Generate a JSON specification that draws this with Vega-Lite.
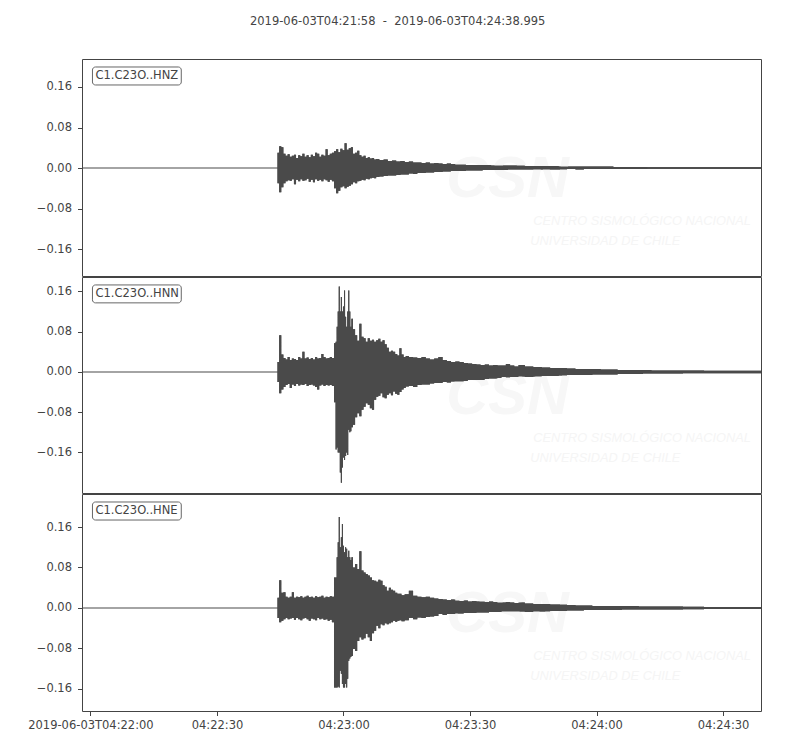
{
  "$schema": "https://vega.github.io/schema/vega-lite/v6.json",
  "padding": {"left": 27, "top": 16, "right": 5, "bottom": 5},
  "title": {
    "text": "2019-06-03T04:21:58\u00a0\u00a0-\u00a0\u00a02019-06-03T04:24:38.995",
    "fontSize": 11.5, "fontWeight": "normal", "color": "#444", "font": "DejaVu Sans",
    "anchor": "middle", "frame": "bounds", "baseline": "bottom", "offset": 20, "dx": 3
  },
  "datasets": {
    "hnz": [
      {"t": 46.2, "u": 0, "l": 0}, {"t": 46.5, "u": 0.03, "l": -0.03}, {"t": 47, "u": 0.043, "l": -0.048},
      {"t": 47.5, "u": 0.041, "l": -0.038}, {"t": 48, "u": 0.028, "l": -0.03}, {"t": 48.5, "u": 0.024, "l": -0.026},
      {"t": 49, "u": 0.027, "l": -0.024}, {"t": 49.5, "u": 0.022, "l": -0.025}, {"t": 50, "u": 0.024, "l": -0.022},
      {"t": 50.5, "u": 0.026, "l": -0.032}, {"t": 51, "u": 0.02, "l": -0.023}, {"t": 51.5, "u": 0.025, "l": -0.026},
      {"t": 52, "u": 0.023, "l": -0.022}, {"t": 52.5, "u": 0.028, "l": -0.025}, {"t": 53, "u": 0.022, "l": -0.024},
      {"t": 53.5, "u": 0.025, "l": -0.021}, {"t": 54, "u": 0.021, "l": -0.027}, {"t": 54.5, "u": 0.026, "l": -0.023},
      {"t": 55, "u": 0.023, "l": -0.028}, {"t": 55.5, "u": 0.03, "l": -0.022}, {"t": 56, "u": 0.028, "l": -0.025},
      {"t": 56.5, "u": 0.022, "l": -0.023}, {"t": 57, "u": 0.026, "l": -0.026}, {"t": 57.5, "u": 0.024, "l": -0.022},
      {"t": 58, "u": 0.037, "l": -0.024}, {"t": 58.5, "u": 0.025, "l": -0.027}, {"t": 59, "u": 0.028, "l": -0.023},
      {"t": 59.5, "u": 0.03, "l": -0.026}, {"t": 60, "u": 0.033, "l": -0.04}, {"t": 60.5, "u": 0.037, "l": -0.05},
      {"t": 61, "u": 0.031, "l": -0.045}, {"t": 61.5, "u": 0.038, "l": -0.038}, {"t": 62, "u": 0.035, "l": -0.036},
      {"t": 62.5, "u": 0.049, "l": -0.04}, {"t": 63, "u": 0.036, "l": -0.037}, {"t": 63.5, "u": 0.039, "l": -0.035},
      {"t": 64, "u": 0.041, "l": -0.032}, {"t": 64.5, "u": 0.028, "l": -0.028}, {"t": 65, "u": 0.03, "l": -0.03},
      {"t": 65.5, "u": 0.034, "l": -0.026}, {"t": 66, "u": 0.025, "l": -0.025}, {"t": 66.5, "u": 0.022, "l": -0.023},
      {"t": 67, "u": 0.024, "l": -0.024}, {"t": 67.5, "u": 0.02, "l": -0.021}, {"t": 68, "u": 0.021, "l": -0.022},
      {"t": 68.5, "u": 0.019, "l": -0.02}, {"t": 69, "u": 0.02, "l": -0.019}, {"t": 69.5, "u": 0.017, "l": -0.02},
      {"t": 70, "u": 0.018, "l": -0.018}, {"t": 71, "u": 0.016, "l": -0.017}, {"t": 72, "u": 0.017, "l": -0.016},
      {"t": 73, "u": 0.014, "l": -0.015}, {"t": 74, "u": 0.015, "l": -0.015}, {"t": 75, "u": 0.013, "l": -0.014},
      {"t": 76, "u": 0.014, "l": -0.013}, {"t": 77, "u": 0.012, "l": -0.013}, {"t": 78, "u": 0.013, "l": -0.011},
      {"t": 79, "u": 0.011, "l": -0.012}, {"t": 80, "u": 0.011, "l": -0.01}, {"t": 81, "u": 0.01, "l": -0.01},
      {"t": 82, "u": 0.011, "l": -0.009}, {"t": 83, "u": 0.009, "l": -0.009}, {"t": 84, "u": 0.01, "l": -0.008},
      {"t": 85, "u": 0.009, "l": -0.008}, {"t": 86, "u": 0.008, "l": -0.007}, {"t": 87, "u": 0.009, "l": -0.007},
      {"t": 88, "u": 0.008, "l": -0.006}, {"t": 89, "u": 0.007, "l": -0.006}, {"t": 90, "u": 0.007, "l": -0.006},
      {"t": 92, "u": 0.006, "l": -0.005}, {"t": 94, "u": 0.006, "l": -0.005}, {"t": 96, "u": 0.006, "l": -0.004},
      {"t": 98, "u": 0.005, "l": -0.004}, {"t": 100, "u": 0.005, "l": -0.004}, {"t": 102, "u": 0.005, "l": -0.003},
      {"t": 104, "u": 0.005, "l": -0.003}, {"t": 106, "u": 0.004, "l": -0.003}, {"t": 108, "u": 0.004, "l": -0.003},
      {"t": 110, "u": 0.004, "l": -0.003}, {"t": 112, "u": 0.004, "l": -0.003}, {"t": 114, "u": 0.003, "l": -0.003},
      {"t": 116, "u": 0.003, "l": -0.002}, {"t": 118, "u": 0.003, "l": -0.003}, {"t": 120, "u": 0.003, "l": -0.002},
      {"t": 124, "u": 0.003, "l": -0.002}, {"t": 128, "u": 0.002, "l": -0.002}, {"t": 132, "u": 0.002, "l": -0.002},
      {"t": 136, "u": 0.0015, "l": -0.0015}, {"t": 161, "u": 0.0015, "l": -0.0015}
    ],
    "hnn": [
      {"t": 46.2, "u": 0, "l": 0}, {"t": 46.5, "u": 0.02, "l": -0.02}, {"t": 47, "u": 0.073, "l": -0.042},
      {"t": 47.5, "u": 0.035, "l": -0.035}, {"t": 48, "u": 0.028, "l": -0.03}, {"t": 48.5, "u": 0.025, "l": -0.026},
      {"t": 49, "u": 0.03, "l": -0.024}, {"t": 49.5, "u": 0.024, "l": -0.032}, {"t": 50, "u": 0.027, "l": -0.025},
      {"t": 50.5, "u": 0.026, "l": -0.028}, {"t": 51, "u": 0.024, "l": -0.024}, {"t": 51.5, "u": 0.03, "l": -0.027},
      {"t": 52, "u": 0.027, "l": -0.025}, {"t": 52.5, "u": 0.04, "l": -0.026}, {"t": 53, "u": 0.027, "l": -0.024},
      {"t": 53.5, "u": 0.029, "l": -0.028}, {"t": 54, "u": 0.026, "l": -0.026}, {"t": 54.5, "u": 0.028, "l": -0.025},
      {"t": 55, "u": 0.025, "l": -0.027}, {"t": 55.5, "u": 0.03, "l": -0.03}, {"t": 56, "u": 0.027, "l": -0.035},
      {"t": 56.5, "u": 0.028, "l": -0.027}, {"t": 57, "u": 0.036, "l": -0.025}, {"t": 57.5, "u": 0.03, "l": -0.028},
      {"t": 58, "u": 0.027, "l": -0.026}, {"t": 58.5, "u": 0.028, "l": -0.027}, {"t": 59, "u": 0.03, "l": -0.026},
      {"t": 59.5, "u": 0.028, "l": -0.028}, {"t": 60, "u": 0.057, "l": -0.06}, {"t": 60.25, "u": 0.06, "l": -0.154},
      {"t": 60.5, "u": 0.09, "l": -0.15}, {"t": 60.75, "u": 0.12, "l": -0.16}, {"t": 61, "u": 0.17, "l": -0.16},
      {"t": 61.25, "u": 0.12, "l": -0.2}, {"t": 61.5, "u": 0.149, "l": -0.22}, {"t": 61.75, "u": 0.12, "l": -0.19},
      {"t": 62, "u": 0.13, "l": -0.17}, {"t": 62.25, "u": 0.162, "l": -0.175}, {"t": 62.5, "u": 0.11, "l": -0.167},
      {"t": 62.75, "u": 0.09, "l": -0.16}, {"t": 63, "u": 0.12, "l": -0.165}, {"t": 63.25, "u": 0.162, "l": -0.115},
      {"t": 63.5, "u": 0.12, "l": -0.12}, {"t": 63.75, "u": 0.09, "l": -0.118}, {"t": 64, "u": 0.106, "l": -0.11},
      {"t": 64.5, "u": 0.085, "l": -0.105}, {"t": 65, "u": 0.073, "l": -0.09}, {"t": 65.5, "u": 0.062, "l": -0.082},
      {"t": 66, "u": 0.096, "l": -0.088}, {"t": 66.5, "u": 0.07, "l": -0.075}, {"t": 67, "u": 0.067, "l": -0.069},
      {"t": 67.5, "u": 0.06, "l": -0.062}, {"t": 68, "u": 0.067, "l": -0.065}, {"t": 68.5, "u": 0.062, "l": -0.072},
      {"t": 69, "u": 0.064, "l": -0.075}, {"t": 69.5, "u": 0.06, "l": -0.055}, {"t": 70, "u": 0.063, "l": -0.049},
      {"t": 70.5, "u": 0.066, "l": -0.047}, {"t": 71, "u": 0.06, "l": -0.042}, {"t": 71.5, "u": 0.063, "l": -0.05},
      {"t": 72, "u": 0.055, "l": -0.052}, {"t": 72.5, "u": 0.048, "l": -0.045}, {"t": 73, "u": 0.04, "l": -0.042},
      {"t": 73.5, "u": 0.042, "l": -0.046}, {"t": 74, "u": 0.04, "l": -0.039}, {"t": 74.5, "u": 0.036, "l": -0.043},
      {"t": 75, "u": 0.033, "l": -0.045}, {"t": 75.5, "u": 0.047, "l": -0.04}, {"t": 76, "u": 0.035, "l": -0.035},
      {"t": 76.5, "u": 0.03, "l": -0.032}, {"t": 77, "u": 0.032, "l": -0.029}, {"t": 78, "u": 0.03, "l": -0.028},
      {"t": 79, "u": 0.029, "l": -0.03}, {"t": 80, "u": 0.028, "l": -0.026}, {"t": 81, "u": 0.03, "l": -0.025},
      {"t": 82, "u": 0.027, "l": -0.025}, {"t": 83, "u": 0.025, "l": -0.023}, {"t": 84, "u": 0.027, "l": -0.022},
      {"t": 85, "u": 0.03, "l": -0.022}, {"t": 86, "u": 0.024, "l": -0.02}, {"t": 87, "u": 0.022, "l": -0.021},
      {"t": 88, "u": 0.02, "l": -0.019}, {"t": 89, "u": 0.021, "l": -0.019}, {"t": 90, "u": 0.02, "l": -0.019},
      {"t": 91, "u": 0.018, "l": -0.018}, {"t": 92, "u": 0.017, "l": -0.016}, {"t": 93, "u": 0.016, "l": -0.016},
      {"t": 94, "u": 0.015, "l": -0.016}, {"t": 95, "u": 0.014, "l": -0.016}, {"t": 96, "u": 0.015, "l": -0.014},
      {"t": 97, "u": 0.013, "l": -0.013}, {"t": 98, "u": 0.014, "l": -0.013}, {"t": 99, "u": 0.013, "l": -0.012},
      {"t": 100, "u": 0.013, "l": -0.01}, {"t": 101, "u": 0.016, "l": -0.011}, {"t": 102, "u": 0.013, "l": -0.01},
      {"t": 103, "u": 0.011, "l": -0.01}, {"t": 104, "u": 0.014, "l": -0.009}, {"t": 106, "u": 0.011, "l": -0.01},
      {"t": 108, "u": 0.01, "l": -0.009}, {"t": 110, "u": 0.009, "l": -0.008}, {"t": 112, "u": 0.008, "l": -0.008},
      {"t": 114, "u": 0.008, "l": -0.007}, {"t": 116, "u": 0.007, "l": -0.006}, {"t": 118, "u": 0.006, "l": -0.006},
      {"t": 120, "u": 0.006, "l": -0.006}, {"t": 122, "u": 0.006, "l": -0.005}, {"t": 124, "u": 0.005, "l": -0.005},
      {"t": 126, "u": 0.005, "l": -0.005}, {"t": 128, "u": 0.004, "l": -0.004}, {"t": 130, "u": 0.004, "l": -0.004},
      {"t": 132, "u": 0.004, "l": -0.004}, {"t": 134, "u": 0.004, "l": -0.003}, {"t": 136, "u": 0.003, "l": -0.003},
      {"t": 140, "u": 0.003, "l": -0.003}, {"t": 145, "u": 0.003, "l": -0.0025}, {"t": 150, "u": 0.0025, "l": -0.0025},
      {"t": 161, "u": 0.0025, "l": -0.0025}
    ],
    "hne": [
      {"t": 46.2, "u": 0, "l": 0}, {"t": 46.5, "u": 0.02, "l": -0.02}, {"t": 47, "u": 0.055, "l": -0.028},
      {"t": 47.5, "u": 0.03, "l": -0.025}, {"t": 48, "u": 0.031, "l": -0.022}, {"t": 48.5, "u": 0.022, "l": -0.02},
      {"t": 49, "u": 0.02, "l": -0.022}, {"t": 49.5, "u": 0.022, "l": -0.021}, {"t": 50, "u": 0.031, "l": -0.02},
      {"t": 50.5, "u": 0.02, "l": -0.023}, {"t": 51, "u": 0.022, "l": -0.02}, {"t": 51.5, "u": 0.021, "l": -0.022},
      {"t": 52, "u": 0.023, "l": -0.024}, {"t": 52.5, "u": 0.02, "l": -0.021}, {"t": 53, "u": 0.022, "l": -0.02},
      {"t": 53.5, "u": 0.024, "l": -0.022}, {"t": 54, "u": 0.021, "l": -0.025}, {"t": 54.5, "u": 0.022, "l": -0.021},
      {"t": 55, "u": 0.02, "l": -0.022}, {"t": 55.5, "u": 0.023, "l": -0.024}, {"t": 56, "u": 0.021, "l": -0.02},
      {"t": 56.5, "u": 0.022, "l": -0.022}, {"t": 57, "u": 0.024, "l": -0.021}, {"t": 57.5, "u": 0.02, "l": -0.023},
      {"t": 58, "u": 0.022, "l": -0.022}, {"t": 58.5, "u": 0.021, "l": -0.025}, {"t": 59, "u": 0.023, "l": -0.023},
      {"t": 59.5, "u": 0.022, "l": -0.028}, {"t": 60, "u": 0.06, "l": -0.157}, {"t": 60.25, "u": 0.06, "l": -0.157},
      {"t": 60.5, "u": 0.1, "l": -0.157}, {"t": 60.75, "u": 0.13, "l": -0.155}, {"t": 61, "u": 0.18, "l": -0.157},
      {"t": 61.25, "u": 0.12, "l": -0.124}, {"t": 61.5, "u": 0.14, "l": -0.13}, {"t": 61.75, "u": 0.166, "l": -0.15},
      {"t": 62, "u": 0.123, "l": -0.157}, {"t": 62.25, "u": 0.11, "l": -0.157}, {"t": 62.5, "u": 0.12, "l": -0.15},
      {"t": 62.75, "u": 0.117, "l": -0.157}, {"t": 63, "u": 0.1, "l": -0.14}, {"t": 63.25, "u": 0.113, "l": -0.104},
      {"t": 63.5, "u": 0.1, "l": -0.1}, {"t": 63.75, "u": 0.095, "l": -0.097}, {"t": 64, "u": 0.1, "l": -0.095},
      {"t": 64.5, "u": 0.08, "l": -0.081}, {"t": 65, "u": 0.087, "l": -0.085}, {"t": 65.5, "u": 0.077, "l": -0.065},
      {"t": 66, "u": 0.112, "l": -0.058}, {"t": 66.5, "u": 0.074, "l": -0.062}, {"t": 67, "u": 0.07, "l": -0.06},
      {"t": 67.5, "u": 0.067, "l": -0.051}, {"t": 68, "u": 0.064, "l": -0.058}, {"t": 68.5, "u": 0.06, "l": -0.065},
      {"t": 69, "u": 0.055, "l": -0.05}, {"t": 69.5, "u": 0.054, "l": -0.045}, {"t": 70, "u": 0.052, "l": -0.035},
      {"t": 70.5, "u": 0.056, "l": -0.04}, {"t": 71, "u": 0.054, "l": -0.032}, {"t": 71.5, "u": 0.045, "l": -0.034},
      {"t": 72, "u": 0.042, "l": -0.03}, {"t": 72.5, "u": 0.034, "l": -0.032}, {"t": 73, "u": 0.04, "l": -0.03},
      {"t": 73.5, "u": 0.036, "l": -0.028}, {"t": 74, "u": 0.034, "l": -0.025}, {"t": 74.5, "u": 0.03, "l": -0.027},
      {"t": 75, "u": 0.028, "l": -0.025}, {"t": 75.5, "u": 0.028, "l": -0.024}, {"t": 76, "u": 0.025, "l": -0.026},
      {"t": 77, "u": 0.027, "l": -0.024}, {"t": 78, "u": 0.034, "l": -0.02}, {"t": 79, "u": 0.024, "l": -0.022},
      {"t": 80, "u": 0.022, "l": -0.019}, {"t": 81, "u": 0.021, "l": -0.02}, {"t": 82, "u": 0.022, "l": -0.018},
      {"t": 83, "u": 0.02, "l": -0.017}, {"t": 84, "u": 0.019, "l": -0.016}, {"t": 85, "u": 0.018, "l": -0.012},
      {"t": 86, "u": 0.017, "l": -0.014}, {"t": 87, "u": 0.016, "l": -0.012}, {"t": 88, "u": 0.017, "l": -0.012},
      {"t": 89, "u": 0.015, "l": -0.011}, {"t": 90, "u": 0.014, "l": -0.011}, {"t": 91, "u": 0.015, "l": -0.01},
      {"t": 92, "u": 0.013, "l": -0.01}, {"t": 93, "u": 0.014, "l": -0.01}, {"t": 94, "u": 0.013, "l": -0.009},
      {"t": 95, "u": 0.013, "l": -0.009}, {"t": 96, "u": 0.012, "l": -0.009}, {"t": 97, "u": 0.013, "l": -0.008},
      {"t": 98, "u": 0.012, "l": -0.008}, {"t": 99, "u": 0.011, "l": -0.008}, {"t": 100, "u": 0.011, "l": -0.007},
      {"t": 101, "u": 0.012, "l": -0.007}, {"t": 102, "u": 0.011, "l": -0.007}, {"t": 103, "u": 0.01, "l": -0.007},
      {"t": 104, "u": 0.011, "l": -0.007}, {"t": 106, "u": 0.009, "l": -0.008}, {"t": 108, "u": 0.008, "l": -0.007},
      {"t": 110, "u": 0.008, "l": -0.007}, {"t": 112, "u": 0.007, "l": -0.006}, {"t": 114, "u": 0.007, "l": -0.006},
      {"t": 116, "u": 0.006, "l": -0.005}, {"t": 118, "u": 0.005, "l": -0.005}, {"t": 120, "u": 0.005, "l": -0.004},
      {"t": 122, "u": 0.004, "l": -0.004}, {"t": 126, "u": 0.004, "l": -0.004}, {"t": 130, "u": 0.004, "l": -0.003},
      {"t": 134, "u": 0.003, "l": -0.003}, {"t": 140, "u": 0.003, "l": -0.003}, {"t": 145, "u": 0.0025, "l": -0.0025},
      {"t": 150, "u": 0.002, "l": -0.002}, {"t": 161, "u": 0.002, "l": -0.002}
    ]
  },
  "spacing": -1,
  "vconcat": [
    {
      "width": 679, "height": 217,
      "data": {"name": "hnz"},
      "layer": [
        {"mark": {"type": "area", "interpolate": "step", "color": "#4a4a4a"},
         "encoding": {
           "x": {"field": "t", "type": "quantitative", "scale": {"domain": [0, 160.995], "nice": false, "zero": false},
                 "axis": {"title": null, "labels": false, "ticks": false, "domain": false, "minExtent": 0, "maxExtent": 0}},
           "y": {"field": "u", "type": "quantitative", "scale": {"domain": [-0.2133, 0.2153], "nice": false, "zero": false},
                 "axis": {"title": null, "values": [-0.16, -0.08, 0, 0.08, 0.16], "format": ".2f"}},
           "y2": {"field": "l"}
         }},
        {"data": {"values": [{}]}, "mark": {"type": "text", "text": "CSN", "font": "Liberation Sans", "fontSize": 58, "fontStyle": "italic", "fontWeight": "bold", "color": "#f7f7f7", "align": "center", "baseline": "middle"},
         "encoding": {"x": {"datum": 100.9}, "y": {"datum": -0.0238}}},
        {"data": {"values": [{}]}, "mark": {"type": "text", "text": "CENTRO SISMOLÓGICO NACIONAL", "font": "Liberation Sans", "fontSize": 12.8, "fontStyle": "italic", "color": "#f5f5f5", "align": "left", "baseline": "middle"},
         "encoding": {"x": {"datum": 107}, "y": {"datum": -0.1049}}},
        {"data": {"values": [{}]}, "mark": {"type": "text", "text": "UNIVERSIDAD DE CHILE", "font": "Liberation Sans", "fontSize": 12.8, "fontStyle": "italic", "color": "#f5f5f5", "align": "left", "baseline": "middle"},
         "encoding": {"x": {"datum": 106.3}, "y": {"datum": -0.1444}}},
        {"data": {"values": [{}]}, "mark": {"type": "rule", "color": "#4a4a4a", "strokeWidth": 1.2},
         "encoding": {"y": {"datum": 0}}},
        {"mark": {"type": "area", "interpolate": "step", "color": "#4a4a4a"},
         "encoding": {"x": {"field": "t", "type": "quantitative"}, "y": {"field": "u", "type": "quantitative"}, "y2": {"field": "l"}}},
        {"data": {"values": [{}]}, "mark": {"type": "rect", "fill": "white", "stroke": "#666", "strokeWidth": 1, "cornerRadius": 3},
         "encoding": {"x": {"datum": 2.48}, "x2": {"datum": 23.54}, "y": {"datum": 0.1995}, "y2": {"datum": 0.164}}},
        {"data": {"values": [{}]}, "mark": {"type": "text", "text": "C1.C23O..HNZ", "fontSize": 11.5, "color": "#444", "align": "left", "baseline": "middle"},
         "encoding": {"x": {"datum": 3.2}, "y": {"datum": 0.1817}}}
      ]
    },
    {
      "width": 679, "height": 216,
      "data": {"name": "hnn"},
      "layer": [
        {"mark": {"type": "area", "interpolate": "step", "color": "#4a4a4a"},
         "encoding": {
           "x": {"field": "t", "type": "quantitative", "scale": {"domain": [0, 160.995], "nice": false, "zero": false},
                 "axis": {"title": null, "labels": false, "ticks": false, "domain": false, "minExtent": 0, "maxExtent": 0}},
           "y": {"field": "u", "type": "quantitative", "scale": {"domain": [-0.2405, 0.1888], "nice": false, "zero": false},
                 "axis": {"title": null, "values": [-0.16, -0.08, 0, 0.08, 0.16], "format": ".2f"}},
           "y2": {"field": "l"}
         }},
        {"data": {"values": [{}]}, "mark": {"type": "text", "text": "CSN", "font": "Liberation Sans", "fontSize": 58, "fontStyle": "italic", "fontWeight": "bold", "color": "#f7f7f7", "align": "center", "baseline": "middle"},
         "encoding": {"x": {"datum": 100.9}, "y": {"datum": -0.0503}}},
        {"data": {"values": [{}]}, "mark": {"type": "text", "text": "CENTRO SISMOLÓGICO NACIONAL", "font": "Liberation Sans", "fontSize": 12.8, "fontStyle": "italic", "color": "#f5f5f5", "align": "left", "baseline": "middle"},
         "encoding": {"x": {"datum": 107}, "y": {"datum": -0.1314}}},
        {"data": {"values": [{}]}, "mark": {"type": "text", "text": "UNIVERSIDAD DE CHILE", "font": "Liberation Sans", "fontSize": 12.8, "fontStyle": "italic", "color": "#f5f5f5", "align": "left", "baseline": "middle"},
         "encoding": {"x": {"datum": 106.3}, "y": {"datum": -0.1709}}},
        {"data": {"values": [{}]}, "mark": {"type": "rule", "color": "#4a4a4a", "strokeWidth": 1.2},
         "encoding": {"y": {"datum": 0}}},
        {"mark": {"type": "area", "interpolate": "step", "color": "#4a4a4a"},
         "encoding": {"x": {"field": "t", "type": "quantitative"}, "y": {"field": "u", "type": "quantitative"}, "y2": {"field": "l"}}},
        {"data": {"values": [{}]}, "mark": {"type": "rect", "fill": "white", "stroke": "#666", "strokeWidth": 1, "cornerRadius": 3},
         "encoding": {"x": {"datum": 2.48}, "x2": {"datum": 23.54}, "y": {"datum": 0.173}, "y2": {"datum": 0.1374}}},
        {"data": {"values": [{}]}, "mark": {"type": "text", "text": "C1.C23O..HNN", "fontSize": 11.5, "color": "#444", "align": "left", "baseline": "middle"},
         "encoding": {"x": {"datum": 3.2}, "y": {"datum": 0.1552}}}
      ]
    },
    {
      "width": 679, "height": 217,
      "data": {"name": "hne"},
      "layer": [
        {"mark": {"type": "area", "interpolate": "step", "color": "#4a4a4a"},
         "encoding": {
           "x": {"field": "t", "type": "quantitative", "scale": {"domain": [0, 160.995], "nice": false, "zero": false},
                 "axis": {"title": null, "values": [2, 32, 62, 92, 122, 152], "labelFlush": false,
                          "labelExpr": "(datum.value < 5 ? '2019-06-03T' : '') + '04:' + (20 + floor((118 + datum.value) / 60)) + ':' + (((118 + datum.value) % 60) < 10 ? '0' : '') + ((118 + datum.value) % 60)"}},
           "y": {"field": "u", "type": "quantitative", "scale": {"domain": [-0.2035, 0.2252], "nice": false, "zero": false},
                 "axis": {"title": null, "values": [-0.16, -0.08, 0, 0.08, 0.16], "format": ".2f"}},
           "y2": {"field": "l"}
         }},
        {"data": {"values": [{}]}, "mark": {"type": "text", "text": "CSN", "font": "Liberation Sans", "fontSize": 58, "fontStyle": "italic", "fontWeight": "bold", "color": "#f7f7f7", "align": "center", "baseline": "middle"},
         "encoding": {"x": {"datum": 100.9}, "y": {"datum": -0.0139}}},
        {"data": {"values": [{}]}, "mark": {"type": "text", "text": "CENTRO SISMOLÓGICO NACIONAL", "font": "Liberation Sans", "fontSize": 12.8, "fontStyle": "italic", "color": "#f5f5f5", "align": "left", "baseline": "middle"},
         "encoding": {"x": {"datum": 107}, "y": {"datum": -0.095}}},
        {"data": {"values": [{}]}, "mark": {"type": "text", "text": "UNIVERSIDAD DE CHILE", "font": "Liberation Sans", "fontSize": 12.8, "fontStyle": "italic", "color": "#f5f5f5", "align": "left", "baseline": "middle"},
         "encoding": {"x": {"datum": 106.3}, "y": {"datum": -0.1345}}},
        {"data": {"values": [{}]}, "mark": {"type": "rule", "color": "#4a4a4a", "strokeWidth": 1.2},
         "encoding": {"y": {"datum": 0}}},
        {"mark": {"type": "area", "interpolate": "step", "color": "#4a4a4a"},
         "encoding": {"x": {"field": "t", "type": "quantitative"}, "y": {"field": "u", "type": "quantitative"}, "y2": {"field": "l"}}},
        {"data": {"values": [{}]}, "mark": {"type": "rect", "fill": "white", "stroke": "#666", "strokeWidth": 1, "cornerRadius": 3},
         "encoding": {"x": {"datum": 2.48}, "x2": {"datum": 23.54}, "y": {"datum": 0.2094}, "y2": {"datum": 0.1738}}},
        {"data": {"values": [{}]}, "mark": {"type": "text", "text": "C1.C23O..HNE", "fontSize": 11.5, "color": "#444", "align": "left", "baseline": "middle"},
         "encoding": {"x": {"datum": 3.2}, "y": {"datum": 0.1916}}}
      ]
    }
  ],
  "config": {
    "font": "DejaVu Sans",
    "view": {"stroke": "#444", "strokeWidth": 1},
    "axis": {
      "labelFont": "DejaVu Sans", "labelFontSize": 11.5, "labelColor": "#444",
      "tickColor": "#444", "tickSize": 4.5, "tickWidth": 1, "labelPadding": 6,
      "domain": false, "grid": false, "labelOverlap": false
    },
    "axisY": {"minExtent": 45, "maxExtent": 45},
    "axisX": {"labelPadding": 4}
  }
}
